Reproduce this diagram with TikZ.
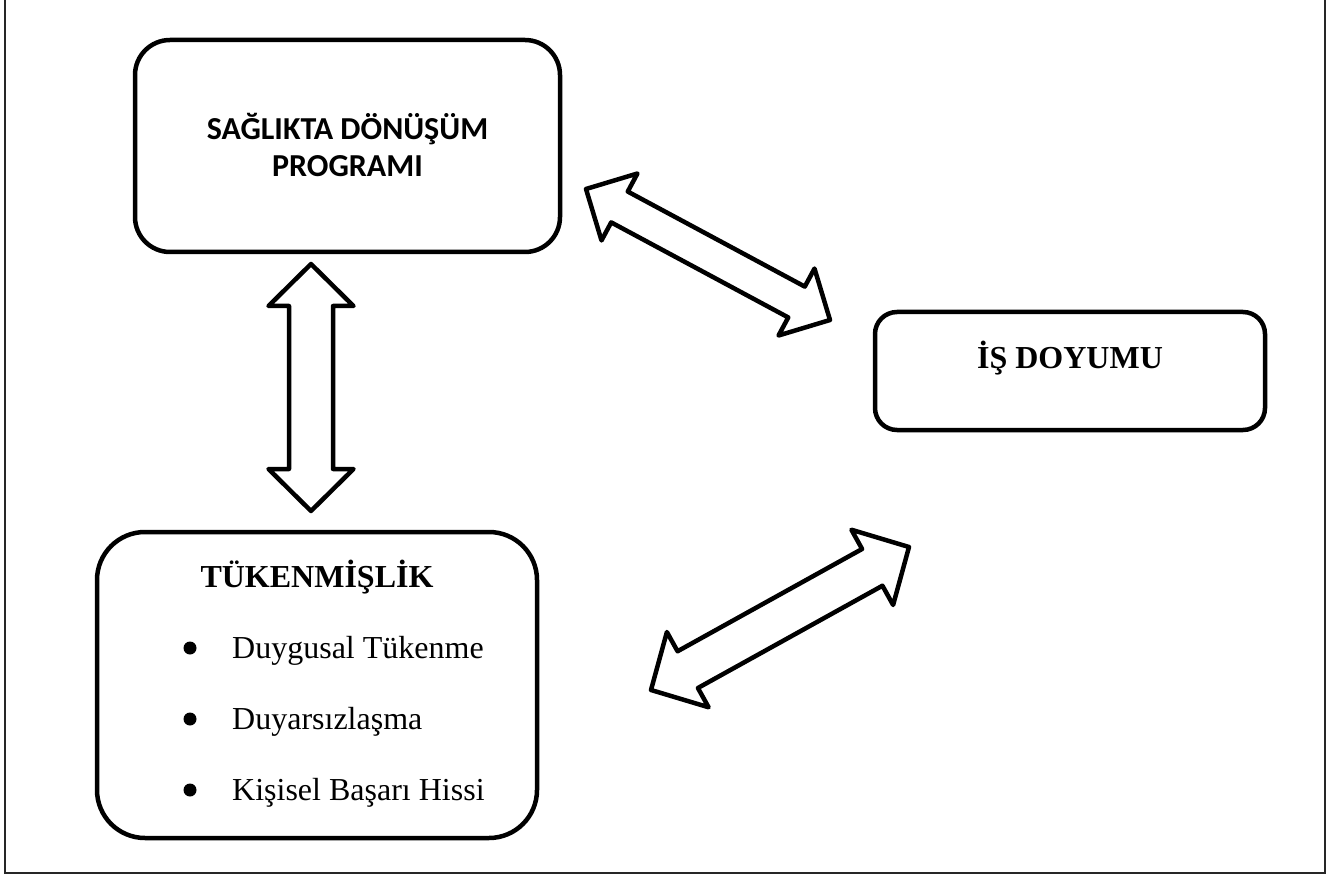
\documentclass[tikz,border=0pt]{standalone}
\usepackage{fontspec}
\setmainfont{Liberation Serif}
\newfontfamily\calib{Carlito}
\usetikzlibrary{calc}
\tikzset{
  box/.style={draw, line width=4.5pt, rounded corners=#1, inner sep=0pt},
  blockarrow/.style={draw, line width=4.5pt, line join=round, fill=white},
  frameline/.style={draw=black!85, line width=2.5pt},
  txt/.style={inner sep=0pt, anchor=base, font=\fontsize{32}{37}\selectfont},
  bul/.style={circle, fill, inner sep=0pt, minimum size=13pt},
}
\newcommand{\dblarr}[5]{%
  \draw[blockarrow] (#1)
    -- ($(#1)!#3!(#2)!#4!90:(#2)$)
    -- ($(#1)!#3!(#2)!#5!90:(#2)$)
    -- ($(#2)!#3!(#1)!#5!-90:(#1)$)
    -- ($(#2)!#3!(#1)!#4!-90:(#1)$)
    -- (#2)
    -- ($(#2)!#3!(#1)!#4!90:(#1)$)
    -- ($(#2)!#3!(#1)!#5!90:(#1)$)
    -- ($(#1)!#3!(#2)!#5!-90:(#2)$)
    -- ($(#1)!#3!(#2)!#4!-90:(#2)$)
    -- cycle;}
\begin{document}
\begin{tikzpicture}[x=1pt,y=-1pt]
\useasboundingbox (0,0) rectangle (1331,877);
% outer frame
\coordinate (f1) at (5,-10);
\coordinate (f2) at (5,873);
\coordinate (f3) at (1325,873);
\coordinate (f4) at (1325,-10);
\draw[frameline] (f1) -- (f2) -- (f3) -- (f4);
% boxes
\node[box=35pt, minimum width=425pt, minimum height=212pt] (sdp) at (347.5,146) {};
\node[box=48pt, minimum width=440pt, minimum height=306pt] (tuk) at (317,685) {};
\node[box=22pt, minimum width=390pt, minimum height=118pt] (isd) at (1070,371) {};
% texts
\node[txt, font=\calib\bfseries\fontsize{32}{37}\selectfont] (sdp1) at (347.5,140) {SAĞLIKTA DÖNÜŞÜM};
\node[txt, font=\calib\bfseries\fontsize{32}{37}\selectfont] (sdp2) at (347.5,177) {PROGRAMI};
\node[txt, font=\bfseries\fontsize{32}{37}\selectfont] (tukt) at (317,587) {TÜKENMİŞLİK};
\node[txt, font=\bfseries\fontsize{32}{37}\selectfont] (isdt) at (1070,368) {İŞ DOYUMU};
\node[bul] (b1) at (190,648) {};
\node[bul] (b2) at (190,719) {};
\node[bul] (b3) at (190,790) {};
\node[txt, anchor=base west] (i1) at (232,658) {Duygusal Tükenme};
\node[txt, anchor=base west] (i2) at (232,729) {Duyarsızlaşma};
\node[txt, anchor=base west] (i3) at (232,800) {Kişisel Başarı Hissi};
% block arrows
\coordinate (v1) at (311,264);
\coordinate (v2) at (311,511);
\coordinate (d1) at (586,189);
\coordinate (d2) at (830,320);
\coordinate (e1) at (651,690);
\coordinate (e2) at (909,547);
\dblarr{v1}{v2}{42pt}{42.5pt}{22pt}
\dblarr{d1}{d2}{38pt}{38pt}{17.5pt}
\dblarr{e1}{e2}{42pt}{43pt}{21pt}
\end{tikzpicture}
\end{document}
